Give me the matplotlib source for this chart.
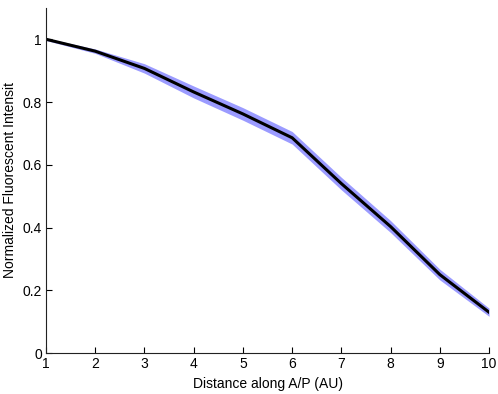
import matplotlib
matplotlib.use('Agg')
import matplotlib.pyplot as plt

plt.rcParams['font.family'] = ['Liberation Sans', 'DejaVu Sans']

# Data
distance = [1, 2, 3, 4, 5, 6, 7, 8, 9, 10]
intensity = [1.0, 0.962, 0.907, 0.832, 0.762, 0.686, 0.540, 0.403, 0.250, 0.130]
spread = [0.004, 0.007, 0.015, 0.019, 0.020, 0.020, 0.020, 0.019, 0.017, 0.013]

lower = [m - s for m, s in zip(intensity, spread)]
upper = [m + s for m, s in zip(intensity, spread)]

fig = plt.figure(figsize=(4.98, 3.94), dpi=100)
ax = fig.add_axes([0.0924, 0.104, 0.8896, 0.876])

ax.fill_between(distance, lower, upper, color='#9b9bff', linewidth=0)
ax.plot(distance, intensity, color='black', linewidth=2.2)

ax.set_xlim(1, 10)
ax.set_ylim(0, 1.1)
ax.set_xticks(range(1, 11))
ax.set_yticks([0, 0.2, 0.4, 0.6, 0.8, 1])
ax.set_yticklabels(['0', '0.2', '0.4', '0.6', '0.8', '1'])

ax.spines['top'].set_visible(False)
ax.spines['right'].set_visible(False)
for s in ('left', 'bottom'):
    ax.spines[s].set_linewidth(0.8)
    ax.spines[s].set_color('#222222')
ax.tick_params(direction='in', length=4, width=0.8, labelsize=10, pad=3)

ax.set_xlabel('Distance along A/P (AU)', fontsize=10, labelpad=4)
ax.set_ylabel('Normalized Fluorescent Intensit', fontsize=10)
ax.yaxis.set_label_coords(-0.066, 0.5)

fig.savefig('out.png', dpi=100)
